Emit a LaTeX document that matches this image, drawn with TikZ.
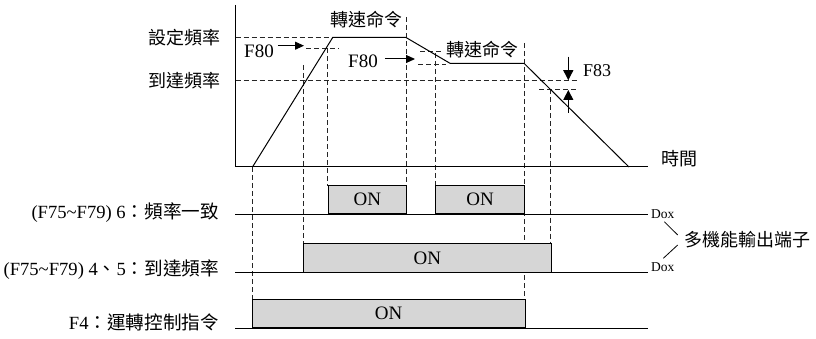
\documentclass[tikz,border=0pt]{standalone}
\usepackage{fontspec}
\setmainfont{Liberation Serif}
\newfontfamily\cjk{Noto Sans CJK TC}
\newcommand\cjktext[1]{{\cjk #1}}
\usetikzlibrary{arrows.meta}

\begin{document}
\begin{tikzpicture}[x=1pt,y=-1pt,
  curve/.style={line width=1pt, line join=miter},
  guide/.style={line width=0.9pt, dash pattern=on 5pt off 3pt, black!85},
  onbox/.style={draw, line width=1pt, fill=black!16, inner sep=0pt,
    anchor=south west, font=\fontsize{19}{19}\selectfont},
  zh/.style={inner sep=0pt, font=\fontsize{18}{18}\selectfont\cjk},
  lat/.style={inner sep=0pt, font=\fontsize{19}{19}\selectfont},
  rowlbl/.style={inner sep=0pt, anchor=east, font=\fontsize{18.6}{18.6}\selectfont},
  small/.style={inner sep=0pt, anchor=west, font=\fontsize{13.5}{13.5}\selectfont},
  pointer/.style={line width=1pt, -{Triangle[length=9pt,width=8pt]}},
  bigpointer/.style={line width=1pt, -{Triangle[length=10pt,width=10pt]}}]
\useasboundingbox (0,0) rectangle (816,339);

% ---------- key points of the frequency curve ----------
\coordinate (o)     at (235.7,167);
\coordinate (ytop)  at (235.7,5);
\coordinate (xend)  at (648,167);
\coordinate (start) at (252.5,167);
\coordinate (top1)  at (332.7,37.5);
\coordinate (top2)  at (406,37.5);
\coordinate (mid1)  at (450,63.3);
\coordinate (mid2)  at (524,63.3);
\coordinate (stop)  at (629,167);

% ---------- guide lines (dashed) ----------
\draw[guide] (235.7,37.5) -- (top1);
\draw[guide] (306,48.3) -- (339,48.3);
\draw[guide] (235.7,80.7) -- (579,80.7);
\draw[guide] (420,51) -- (443,51);
\draw[guide] (418,64.5) -- (446,64.5);
\draw[guide] (539,89.5) -- (576,89.5);

\draw[guide] (start) -- (252.5,300);
\draw[guide] (303,65) -- (303,244.3);
\draw[guide] (327.5,48.3) -- (327.5,186);
\draw[guide] (406,17) -- (406,186);
\draw[guide] (435,53) -- (435,186);
\draw[guide] (524,43) -- (524,300);
\draw[guide] (550,89.5) -- (550,244.3);

% ---------- axes and curve ----------
\draw[curve] (ytop) -- (o) -- (xend);
\draw[curve] (start) -- (top1) -- (top2) -- (mid1) -- (mid2) -- (stop);

% ---------- axis and level labels ----------
\node[zh, anchor=east] (setf)   at (221,37.5) {設定頻率};
\node[zh, anchor=east] (reachf) at (221,80.7) {到達頻率};
\node[zh] (cmd1) at (366.7,20)   {轉速命令};
\node[zh] (cmd2) at (482.3,49.7) {轉速命令};
\node[zh] (time) at (679,159)    {時間};

% ---------- F80 / F83 markers ----------
\node[lat, anchor=west] (f80a) at (244,51) {F80};
\coordinate (f80atip) at (304,45.7);
\draw[pointer] ([xshift=4pt]f80a.east |- f80atip) -- (f80atip);

\node[lat, anchor=west] (f80b) at (348,61) {F80};
\coordinate (f80btip) at (415,59);
\draw[pointer] ([xshift=7pt]f80b.east |- f80btip) -- (f80btip);

\node[inner sep=0pt, anchor=west, font=\fontsize{18}{18}\selectfont] (f83) at (583,71) {F83};
\coordinate (f83a) at (568.3,56.7);
\coordinate (f83b) at (568.3,80.2);
\coordinate (f83c) at (568.3,112.7);
\coordinate (f83d) at (568.3,90);
\draw[bigpointer] (f83a) -- (f83b);
\draw[bigpointer] (f83c) -- (f83d);

% ---------- output timing rows ----------
\draw[curve] (235,214.3) -- (648,214.3);
\draw[curve] (235,272.7) -- (648,272.7);
\draw[curve] (235,328.3) -- (648,328.3);

\node[onbox, minimum width=78.3pt, minimum height=28.3pt] (on1) at (327.7,214.3) {ON};
\node[onbox, minimum width=89pt,   minimum height=28.3pt] (on2) at (435,214.3)   {ON};
\node[onbox, minimum width=247.7pt,minimum height=28.4pt] (on3) at (303,272.7)   {ON};
\node[onbox, minimum width=273pt,  minimum height=28.3pt] (on4) at (251.7,328.3) {ON};

\node[rowlbl] (r1) at (219,212.5) {(F75\textasciitilde F79) 6\cjktext{：頻率一致}};
\node[rowlbl] (r2) at (219,270)   {(F75\textasciitilde F79) 4\cjktext{、}5\cjktext{：到達頻率}};
\node[rowlbl] (r3) at (219,322)   {F4\cjktext{：運轉控制指令}};

% ---------- output terminal note ----------
\node[small] (dox1) at (651,214) {Dox};
\node[small] (dox2) at (651,267.5) {Dox};
\node[zh, anchor=west] (multi) at (684,240) {多機能輸出端子};
\coordinate (b1) at (664.3,221.7);
\coordinate (b2) at (677.7,235);
\coordinate (b3) at (677.7,245);
\coordinate (b4) at (663.3,258.3);
\draw[line width=0.8pt] (b1) -- (b2);
\draw[line width=0.8pt] (b3) -- (b4);
\end{tikzpicture}
\end{document}
